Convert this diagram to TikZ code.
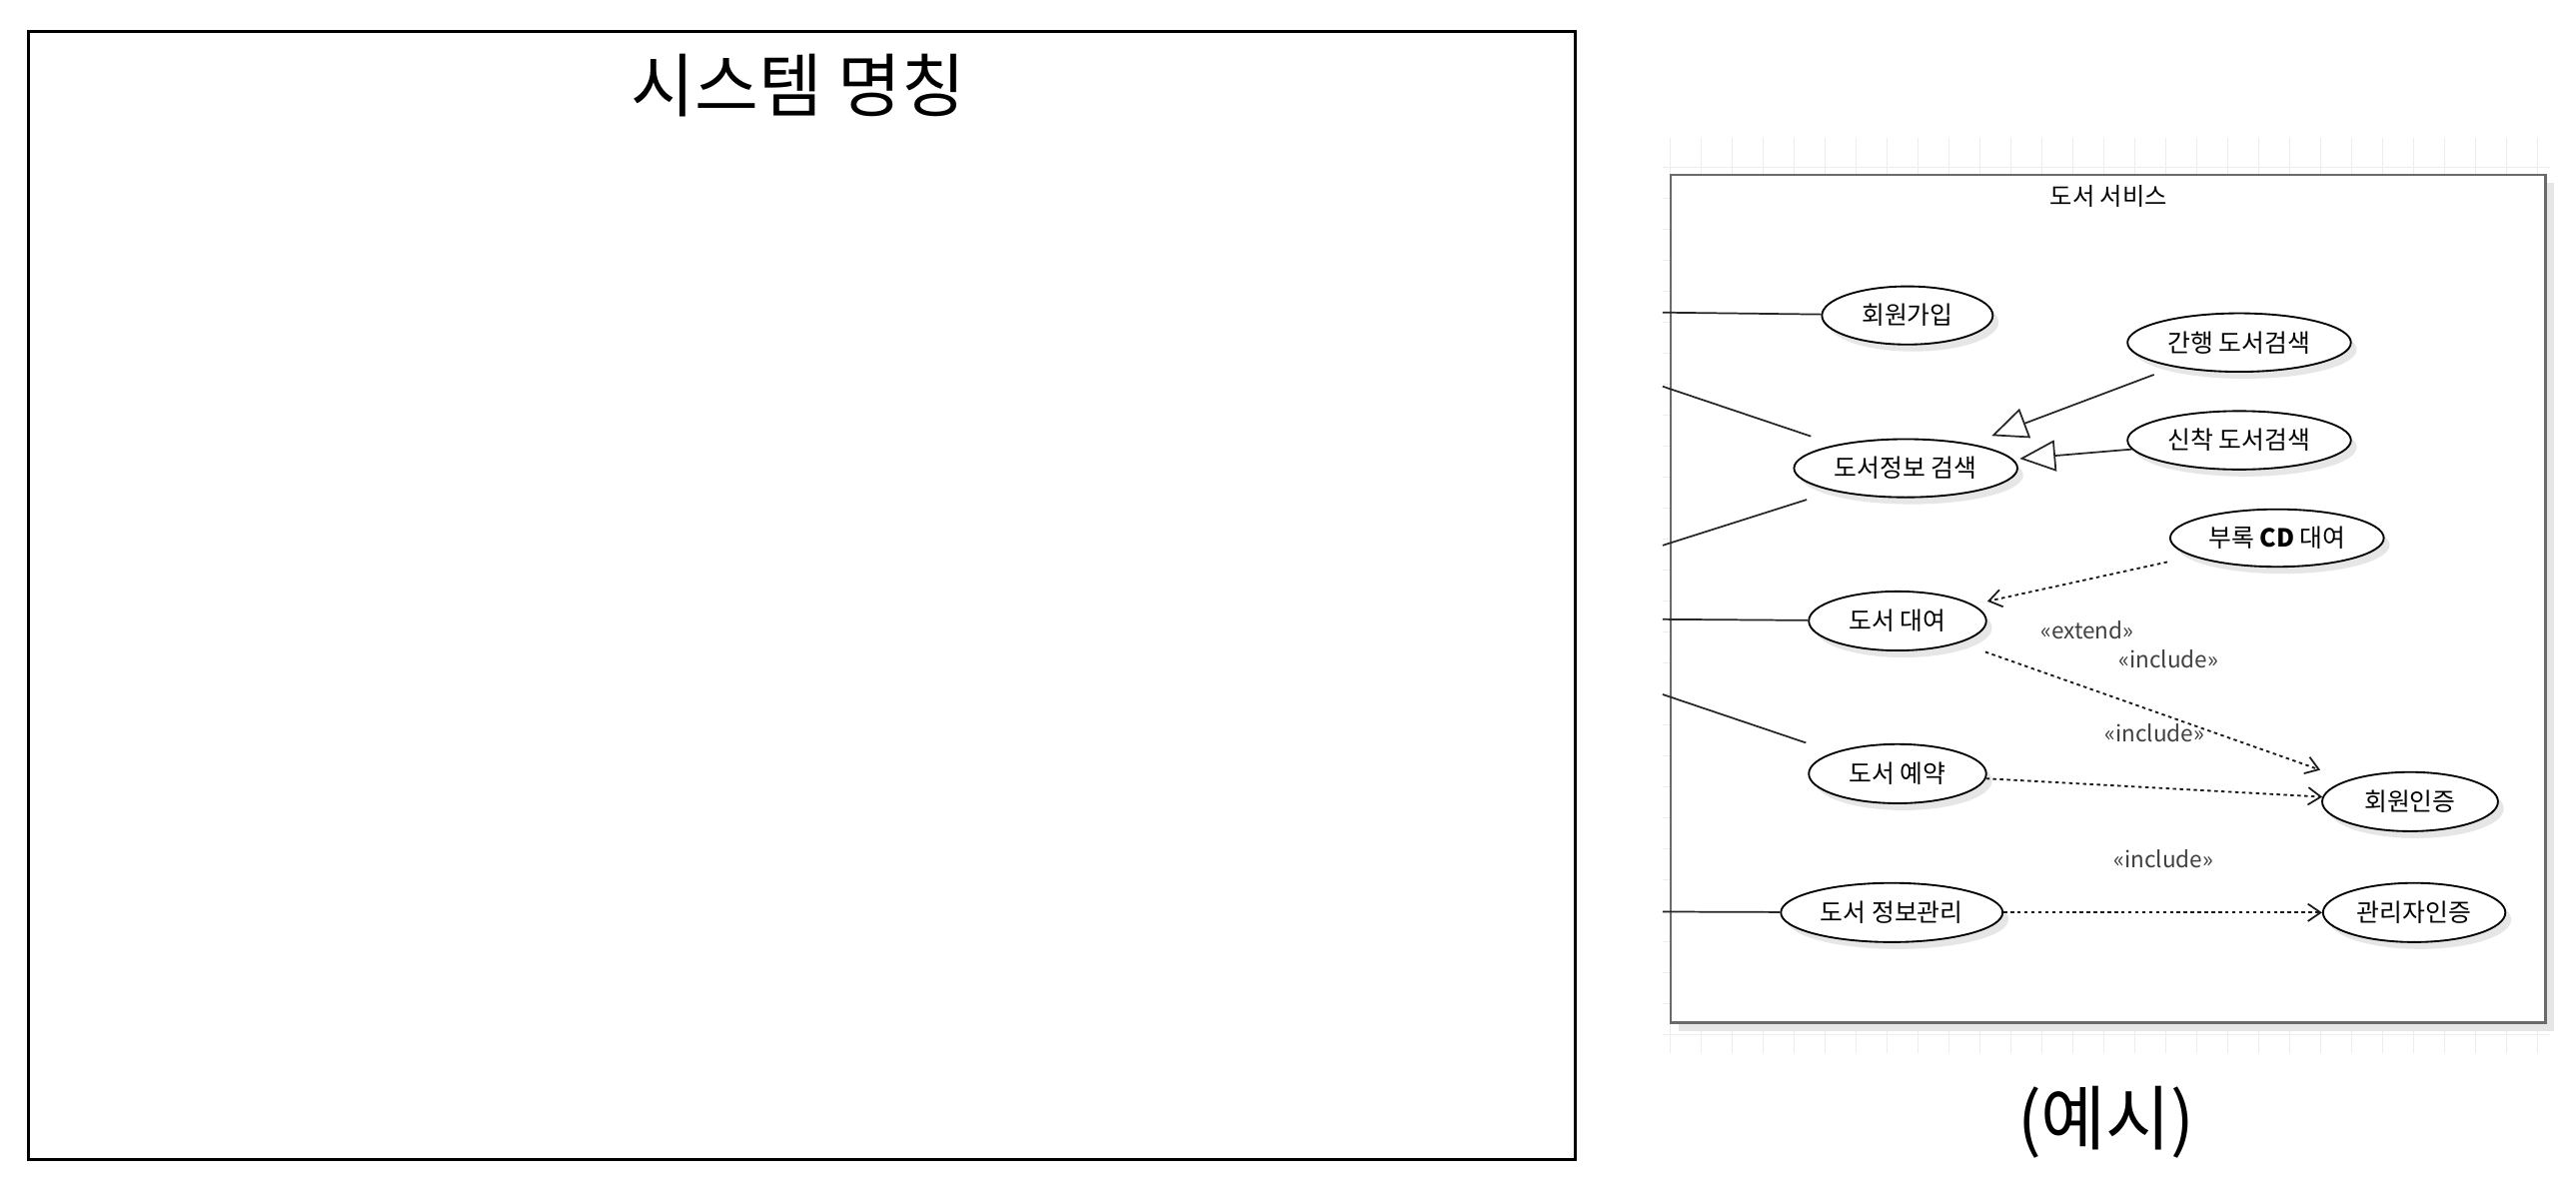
\documentclass[tikz,border=0pt]{standalone}
\usepackage{fontspec}
\setmainfont{Noto Sans CJK KR}
\usetikzlibrary{arrows.meta,shapes.geometric,shadows}
\definecolor{gridc}{HTML}{EDEDED}
\definecolor{boxc}{HTML}{6A6A6A}
\definecolor{shc}{HTML}{E6E6E6}
\begin{document}
\begin{tikzpicture}[x=0.05cm,y=-0.05cm,
  uc/.style={ellipse,draw=black,line width=1.6pt,fill=white,inner sep=0pt,
    font=\fontsize{21.5}{25}\selectfont,
    drop shadow={shadow xshift=5pt,shadow yshift=-6pt,fill=shc,opacity=1}},
  ucs/.style 2 args={minimum width={2*#1*1.4226pt},minimum height={2*#2*1.4226pt}},
  assoc/.style={line width=1.5pt,draw=black!85},
  gen/.style={line width=1.5pt,draw=black!85,
    -{Triangle[open,length=31pt,width=27pt,line width=1.5pt]}},
  dep/.style={line width=1.6pt,draw=black!90,dash pattern=on 3pt off 3pt,
    -{Straight Barb[length=11pt,width=15pt,line width=1.5pt]}},
  lbl/.style={font=\fontsize{19.5}{23}\selectfont,text=black!75,inner sep=0pt},
]
\useasboundingbox (0,0) rectangle (1568,729);

% left template box
\draw[line width=2.5pt] (17.4,18.9) rectangle (958.9,705.6);
\node[font=\fontsize{60}{72}\selectfont] (sysname) at (486,52) {시스템 명칭};

% grid background of the example
\begin{scope}
  \clip (1012,84) rectangle (1552,641);
  \foreach \i in {0,...,28}
    \draw[gridc,line width=0.8pt] ({1016.4+18.86*\i},84) -- ++(0,557);
  \foreach \j in {0,...,28}
    \draw[gridc,line width=0.8pt] (1012,{101.6+18.86*\j}) -- ++(540,0);
\end{scope}

% system boundary
\fill[shc] (1022,111.5) rectangle (1554.5,627.5);
\draw[boxc,line width=2.4pt,fill=white] (1017,106.5) rectangle (1549.5,622.5);
\node[font=\fontsize{21}{25}\selectfont] (svc) at (1283.5,119.5) {도서 서비스};

% use cases
\node[uc,ucs={52}{17.7}] (join) at (1161,192) {회원가입};
\node[uc,ucs={68}{17.8}] (pub) at (1363,208.5) {간행 도서검색};
\node[uc,ucs={68}{17.7}] (search) at (1160,285) {도서정보 검색};
\node[uc,ucs={68}{17.8}] (newb) at (1363,268) {신착 도서검색};
\node[uc,ucs={65}{17.5}] (cd) at (1386,327.5) {부록 \textbf{CD} 대여};
\node[uc,ucs={54}{18}] (rent) at (1155,378) {도서 대여};
\node[uc,ucs={54}{18}] (resv) at (1155,471) {도서 예약};
\node[uc,ucs={53.5}{18}] (mauth) at (1467,488) {회원인증};
\node[uc,ucs={67.5}{18}] (manage) at (1151.5,555.5) {도서 정보관리};
\node[uc,ucs={55.5}{18}] (aauth) at (1469.5,555.5) {관리자인증};

% free ends of actor associations (actors cut off)
\coordinate (a1) at (1012,190.2);
\coordinate (a2) at (1012,235.2);
\coordinate (a3) at (1012,332);
\coordinate (a4) at (1012,377);
\coordinate (a5) at (1012,422.7);
\coordinate (a6) at (1012,555);

\draw[assoc] (a1) -- (join);
\draw[assoc,shorten >=22.8pt] (a2) -- (search);
\draw[assoc,shorten >=24.2pt] (a3) -- (search);
\draw[assoc] (a4) -- (rent);
\draw[assoc,shorten >=25.6pt] (a5) -- (resv);
\draw[assoc] (a6) -- (manage);

% generalizations
\draw[gen,shorten <=18.5pt,shorten >=19.3pt] (pub) -- (search);
\draw[gen,shorten >=5.7pt] (newb) -- (search);

% extend / include
\draw[dep,shorten <=22.5pt,shorten >=12.8pt] (cd) -- (rent);
\draw[dep,shorten <=23.5pt,shorten >=25.6pt] (rent) -- (mauth);
\draw[dep] (resv) -- (mauth);
\draw[dep] (manage) -- (aauth);

\node[lbl] (lext) at (1270.6,383.6) {«extend»};
\node[lbl] (linc1) at (1320,401.5) {«include»};
\node[lbl] (linc2) at (1311.5,446.5) {«include»};
\node[lbl] (linc3) at (1317,523) {«include»};

\node[font=\fontsize{61}{72}\selectfont] (ex) at (1282,683) {(예시)};
\end{tikzpicture}
\end{document}
